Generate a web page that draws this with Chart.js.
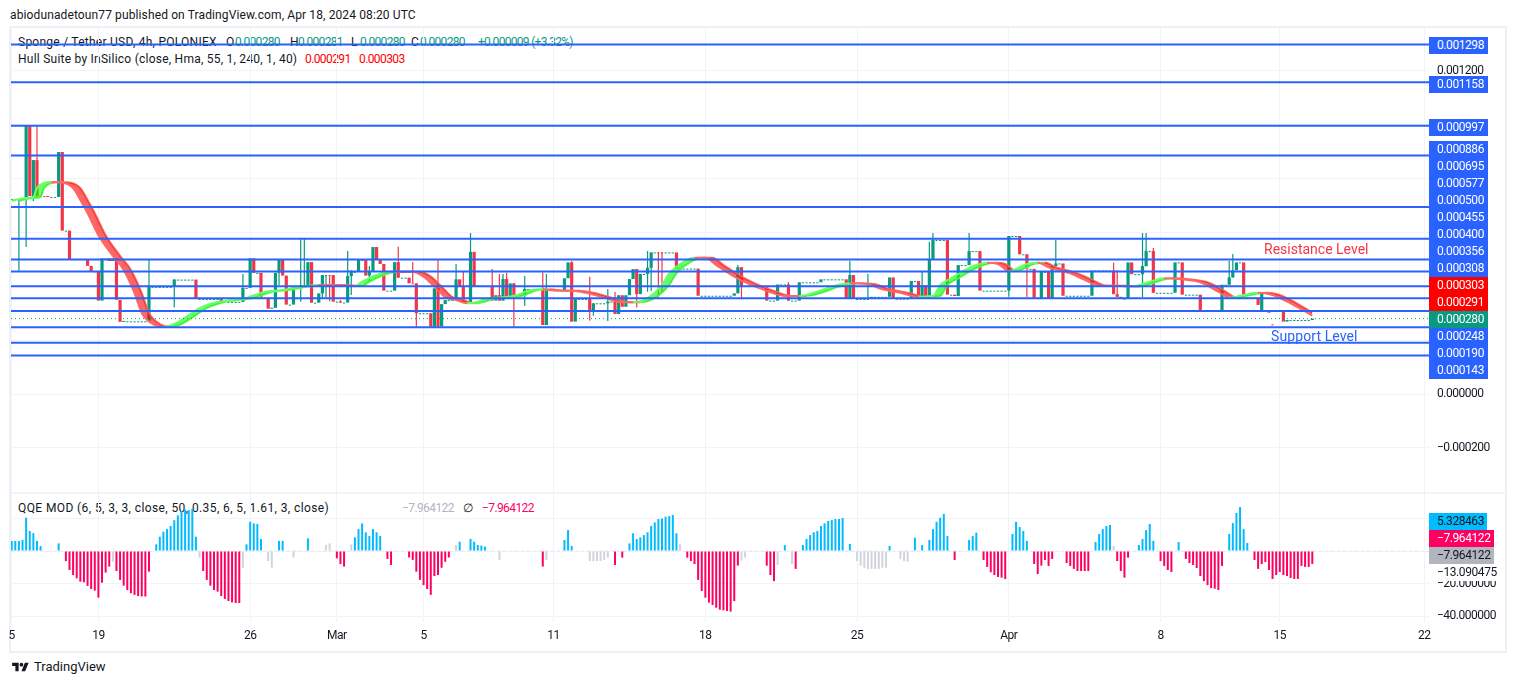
<!DOCTYPE html>
<html><head><meta charset="utf-8">
<script src="https://cdn.jsdelivr.net/npm/chart.js@4"></script>
<style>
html,body{margin:0;padding:0;background:#fff;width:1515px;height:685px;overflow:hidden;font-family:Roboto,sans-serif;font-size:12px;color:#131722}
canvas{position:absolute;z-index:2}
.t{position:absolute;white-space:pre;line-height:16px;z-index:1}
.tag{position:absolute;left:1429px;height:17px;line-height:17px;text-align:left;padding-left:8px;box-sizing:border-box;z-index:3;font-size:12px;letter-spacing:-0.42px}
#frame{position:absolute;left:9px;top:26px;width:1494px;height:623px;border:2px solid #eef0f5;box-sizing:content-box;z-index:0}
#sep{position:absolute;left:11px;top:492px;width:1494px;height:2px;background:#f0f3fa;z-index:0}
</style></head><body>
<div id="frame"></div><div id="sep"></div>
<canvas id="price" style="left:0;top:0"></canvas>
<canvas id="qqe" style="left:0;top:494px"></canvas>
<div id="texts"></div>
<svg style="position:absolute;left:10px;top:661px" width="21" height="13" viewBox="0 0 36 28"><path fill="#131722" d="M14 22H7V11H0V4h14v18zM28 22h-8l7.5-18h8L28 22z"/><circle cx="20" cy="8" r="4" fill="#131722"/></svg>
<script>
// ----- data -----
const priceUnit = 1e-6;
const closes = [724,724,724,724,997,735,869,735,735,735,732,732,732,899,607,607,501,501,501,501,501,476,456,456,347,504,504,494,504,350,268,
270,270,270,270,270,270,270,398,398,398,398,398,398,398,425,425,425,425,425,425,353,353,353,353,353,353,353,342,342,342,342,342,342,394,394,
504,450,450,358,358,317,320,450,498,440,332,332,399,399,405,405,490,339,339,374,442,442,442,343,343,340,340,438,454,454,498,498,440,455,546,
498,483,384,384,384,490,432,432,432,411,411,300,300,300,300,250,393,251,334,349,349,349,426,399,339,339,528,399,401,401,401,401,347,367,347,
427,359,411,364,364,364,390,390,390,390,390,256,386,386,386,386,386,430,489,269,353,353,353,353,307,337,337,337,337,343,343,297,367,324,367,
427,464,371,446,446,469,526,526,526,526,526,526,526,466,466,466,466,466,466,365,365,365,365,365,365,365,365,365,365,374,471,402,402,402,402,
402,402,402,347,347,347,407,407,407,347,347,347,415,415,415,415,415,415,426,426,426,426,426,426,426,353,442,353,353,353,353,353,361,361,361,
361,361,433,354,354,354,354,354,420,420,354,404,354,501,572,572,572,572,369,369,364,479,479,479,531,531,531,384,384,384,384,384,384,384,384,
587,587,587,519,519,465,465,356,356,454,454,356,475,485,485,365,365,365,365,365,365,365,365,459,459,459,459,459,459,371,361,354,354,489,445,
445,445,475,531,531,376,376,376,376,376,376,489,489,369,369,369,369,369,312,312,312,312,312,312,406,406,433,460,489,489,359,359,359,359,331,
374,310,302,310,310,310,269,275,275,275,275,275,275,275,280];
const gapOpenIdx = [346,347,349];
const gapOpenVal = [309,310,310];
const redFlatIdx = [8,9,88,111,179,180];
const strayIdx = [349];
const strayVal = [259];
const wickIdx = [2,4,6,7,38,45,64,74,80,81,86,87,88,91,93,94,99,107,111,112,118,123,125,127,133,135,136,137,139,142,147,148,155,160,161,165,167,173,176,177,179,180,201,202,215,232,237,252,254,255,265,276,281,289,305,306,313,314,316,337,338];
const wickHigh = [724,997,869,997,501,427,446,498,580,580,442,442,442,349,531,460,476,547,490,411,498,483,454,598,464,446,446,450,411,438,451,446,494,436,337,390,379,464,531,526,528,528,479,471,416,495,446,454,566,598,598,587,519,572,488,461,598,598,542,494,520];
const wickLow  = [453,546,717,735,270,321,345,405,343,405,356,356,345,338,341,368,420,432,411,250,251,349,339,339,347,347,347,359,250,327,256,256,269,272,291,271,297,321,380,383,353,379,374,352,347,353,356,354,354,501,479,361,360,475,371,361,360,475,376,406,433];

const hullIdx = [0,4,6,7,9,11,14,17,19,21,24,28,31,34,36,39,42,45,49,52,57,61,65,70,75,80,85,90,95,97,101,105,108,111,114,117,120,123,126,129,132,136,140,143,147,151,155,159,164,168,172,176,180,182,186,189,192,195,200,204,209,214,218,223,227,232,237,241,246,251,255,257,260,263,267,270,273,276,281,284,287,293,297,301,306,310,315,319,324,329,334,337,341,345,349,354,360];
const hullVal = [718,728,732,765,784,788,786,765,721,672,590,513,461,375,301,260,249,260,293,319,342,349,357,379,386,399,405,405,401,417,442,454,454,454,436,399,360,349,337,343,356,359,368,384,389,384,384,376,358,342,341,356,405,448,491,506,506,479,436,409,383,364,364,380,399,411,408,389,376,361,364,405,430,454,479,488,483,457,483,489,471,448,424,402,402,399,417,430,426,415,380,358,368,376,368,337,291];
const hullLagBars = 2;

const levelVals = [1298,1158,997,886,695,577,500,455,400,356,308,248,190,143];
const lastPrice = 280;
const priceGrid = [1200,1000,800,600,400,200,0,-200];
const priceTickShown = [1200,0,-200];

const tagVals = [1298,1158,997,886,695,577,500,455,400,356,308,303,291,280,248,190,143];
const tagKinds = ['b','b','b','b','b','b','b','b','b','b','b','r','r','g','b','b','b'];
const tagSlots = [45,84,127,149,166,183,200,217,234,251,268,285,302,319,336,353,370];

const timeTickIdx = [0,24,66,90,114,150,192,234,276,318,351,391];
const timeTickLab = ['5','19','26','Mar','5','11','18','25','Apr','8','15','22'];

const qqeIdx = [0,1,2,3,4,5,6,7,8,13,15,16,17,18,19,20,21,22,23,24,25,26,27,28,29,30,31,32,33,34,35,36,37,38,40,41,42,43,44,45,46,47,48,49,50,51,52,53,54,55,56,57,58,59,60,61,62,63,64,65,66,67,68,69,71,72,74,75,78,82,87,88,90,91,92,94,95,96,97,98,99,100,101,102,104,105,110,111,112,113,114,115,116,117,118,119,120,121,123,124,127,128,129,130,131,135,147,148,153,154,155,160,161,162,163,164,165,167,169,171,172,173,174,175,176,177,178,179,180,181,182,183,184,185,187,188,189,190,191,192,193,194,195,196,197,198,199,200,201,202,203,209,210,211,212,214,216,217,219,220,221,222,223,224,225,226,227,228,229,230,232,234,235,236,237,238,239,240,241,242,243,246,247,248,250,252,254,255,256,257,258,259,261,265,266,267,269,270,271,272,273,274,275,277,278,279,280,281,283,284,285,286,287,288,292,293,294,295,296,297,298,300,301,302,303,304,305,306,307,308,309,312,313,314,315,316,318,319,320,321,323,325,326,327,328,329,330,331,332,333,334,335,337,338,339,340,341,342,344,345,346,347,348,349,350,351,352,353,354,355,356,357,358,359,360];
const qqeVal = [6.2,6.2,6.2,6.8,20.5,12.3,11,6.2,3,4.7,-6.2,-11.7,-14.8,-16.8,-18.9,-19.3,-21.5,-23.4,-24.4,-28.7,-19.5,-13.3,-9.6,-6.6,-12.3,-17.8,-21.3,-24,-26,-27,-27.7,-28,-28,-12.7,4.1,8.8,11.9,13.5,15.4,19,22,24.6,25.6,25.2,26,8.8,-4,-12.3,-17.8,-21.3,-24,-25,-27.7,-29.5,-30.8,-31.6,-32,-32,-10.3,4.1,18,17,16.6,7.4,-6.2,-10.3,6.2,6.2,-4,7.8,3.7,4.7,-4.5,-8,-9.6,4.1,8.4,13.5,17,11.5,9.2,13.5,11.5,9.2,-4.9,-8.6,-4,-5.5,-12.7,-17.8,-21,-23.4,-27,-15.4,-14.8,-10.3,-6.6,-4,3.7,5.7,7.4,5.7,3.7,3.3,2.7,-5.5,-9.6,-5.5,6.8,12.9,3.1,-6.2,-6.2,-6.2,-6.2,-5.5,-4.1,-8.6,-4.1,4.7,10.9,7.4,8.4,9.8,11.5,15.4,17.6,19.7,20,21.1,21.5,22.2,10.9,4.1,-4.1,-6.2,-8,-17.8,-24.6,-28.7,-31.8,-33.2,-34.9,-36.1,-36.5,-36.9,-37.3,-30.8,-9,-5.9,-4.1,-9,-14.8,-18.5,-8.6,3.7,-8,-11,3.7,7.4,9.8,11.5,12.3,15.4,17,18.5,19,19.7,19.7,20.3,4.3,-6.2,-9,-10.3,-11,-11,-11,-11,-10.3,-10.3,3.1,-4.9,-6.2,-6.6,8.2,3.7,6.8,13.5,18,20.5,22.8,9.2,-5.5,6.8,9.2,11.3,-5.5,-9.8,-13.1,-14.8,-16,-16.4,-17.2,10.5,18,14.8,12.3,6.2,-8,-14.2,-9,-5.5,-9.2,-4.9,-7.4,-9.2,-11,-12.3,-12.3,-12.3,-12.3,5.5,10.5,13.5,15.4,16,3.1,-6.2,-12.3,-16.4,-4.1,3.7,7.4,12.9,16.6,6.2,-6.2,-9.2,-11.7,-12.9,5.5,-4.9,-7.4,-8.6,-10.5,-15.4,-18.5,-21,-22.8,-23.2,-24,-9.2,10.5,17.2,23.4,27,13.5,4.9,-5.5,-11,-8,-6.8,-11.7,-17.2,-14.8,-12.9,-14.8,-15.4,-16.6,-17.2,-17.2,-9.2,-9.8,-9.8,-7.96];
const qqeGrayIdx = [28,52,64,71,72,78,87,88,94,123,135,148,160,161,162,163,164,165,185,202,203,212,216,234,235,236,237,238,239,240,241,242,246,247,248,305];
const qqeGrid = [20,0,-20,-40];
const qqeTickShown = [-20,-40];

// ----- styles & layout -----
const UP='#089981', DOWN='#f23645', BLUE='#2962ff', TXT='#131722', GRID='#f0f3fa';
const QBLUE='#00bcff', QPINK='#ff0062', QGRAY='#d1d4dc';
const FONT='Roboto';
const W=1515;
const xMin=-0.19, xMax=392.3;
const fmtP=v=>(v<0?'\u2212':'')+Math.abs(v*priceUnit).toFixed(6);
const fmtQ=v=>(v<0?'\u2212':'')+Math.abs(v).toFixed(6);
Chart.defaults.font.family=FONT; Chart.defaults.font.size=12; Chart.defaults.color=TXT;

// candles: real bodies are 3px wide, flat bars draw as short dashes
const bodies=[],bodyCol=[],flats=[],flatCol=[];
const dirCol=closes.map((c,i)=>{
  const g=gapOpenIdx.indexOf(i); const o=g>=0?gapOpenVal[g]:(i?closes[i-1]:c);
  const col=c>o?UP:c<o?DOWN:(redFlatIdx.includes(i)?DOWN:UP);
  if(c===o){flats.push({x:i,y:[c*priceUnit,c*priceUnit]});flatCol.push(col)}
  else{bodies.push({x:i,y:[o*priceUnit,c*priceUnit]});bodyCol.push(col)}
  return col;
});
strayIdx.forEach((x,k)=>{flats.push({x,y:[strayVal[k]*priceUnit,strayVal[k]*priceUnit]});flatCol.push(DOWN)});
const wicks=wickIdx.map((x,k)=>({x,y:[wickLow[k]*priceUnit,wickHigh[k]*priceUnit]}));

const fast=hullIdx.map((x,k)=>({x,y:hullVal[k]*priceUnit}));
const slow=hullIdx.slice(0,-1).map((x,k)=>({x:x+hullLagBars,y:hullVal[k]*priceUnit}));
slow[slow.length-1]={x:360,y:303*priceUnit};
const HG='rgba(0,255,0,0.6)',HR='rgba(255,0,0,0.6)',HGL='#66ff66',HRL='#ff6666';
function hullRising(x){let k=0;while(k<hullIdx.length-2&&hullIdx[k+1]<=x)k++;return hullVal[k+1]>hullVal[k]}
const seg={borderColor:ctx=>hullRising(ctx.p0.parsed.x)?HGL:HRL};

const priceDs=[
 {type:'bar',label:'wick',data:wicks,backgroundColor:wickIdx.map(i=>dirCol[i]),barThickness:1.2,inflateAmount:0,grouped:false,order:7},
 {type:'bar',label:'candles',data:bodies,backgroundColor:bodyCol,barThickness:3.2,inflateAmount:0,minBarLength:1,grouped:false,order:6},
 {type:'bar',label:'flat',data:flats,backgroundColor:flatCol,barThickness:2.2,inflateAmount:0,minBarLength:1,grouped:false,order:5},
 {type:'line',label:'hull',data:fast,borderWidth:2,pointRadius:0,cubicInterpolationMode:'monotone',segment:seg,borderColor:HGL,
   fill:{target:4,above:HG,below:HR},order:4},
 {type:'line',label:'hullLag',data:slow,borderWidth:2,pointRadius:0,cubicInterpolationMode:'monotone',segment:seg,borderColor:HGL,fill:false,order:4}
];
levelVals.forEach(v=>priceDs.push({type:'line',label:'level',data:[{x:xMin,y:v*priceUnit},{x:xMax,y:v*priceUnit}],borderColor:BLUE,borderWidth:2,pointRadius:0,fill:false,order:1}));
priceDs.push({type:'line',label:'last',data:[{x:xMin,y:lastPrice*priceUnit},{x:xMax,y:lastPrice*priceUnit}],borderColor:UP,borderWidth:1,borderDash:[1,3],pointRadius:0,fill:false,order:2});

const xGrid={color:GRID,lineWidth:1,drawTicks:false,offset:false};
function xScale(showLabels){return {type:'linear',min:xMin,max:xMax,offset:false,grid:xGrid,border:{display:false},
  afterBuildTicks:s=>{s.ticks=timeTickIdx.map(v=>({value:v}))},
  afterFit:s=>{s.height=showLabels?28:0;s.paddingLeft=0;s.paddingRight=0},
  ticks:{display:showLabels,autoSkip:false,maxRotation:0,padding:7,color:TXT,font:{size:12},
    callback:v=>{const k=timeTickIdx.indexOf(v);return k>=0?timeTickLab[k]:''}}}}
function yScale(min,max,grid,shown,fmt,unit){return {type:'linear',position:'right',min,max,
  grid:{color:GRID,lineWidth:1,drawTicks:false},border:{display:false},
  afterBuildTicks:s=>{s.ticks=grid.map(v=>({value:v*unit}))},
  afterFit:s=>{s.width=76;s.paddingTop=0;s.paddingBottom=0},
  ticks:{padding:8,autoSkip:false,color:TXT,font:{size:12},align:'center',crossAlign:'near',
    callback:v=>{const r=Math.round(v/unit);return shown.includes(r)?fmt(r):''}}}}
const tightDigits={id:'tightDigits',beforeDraw:c=>{c.ctx.letterSpacing='-0.5px'}};
const common={responsive:false,animation:false,devicePixelRatio:1,plugins:{legend:{display:false},tooltip:{enabled:false},title:{display:false}}};

// price pane: y(px)=394 at 0, 269167 px per unit
const pEl=document.getElementById('price'); pEl.width=W; pEl.height=494;
new Chart(pEl,{type:'bar',data:{datasets:priceDs},plugins:[tightDigits],options:{...common,
  layout:{autoPadding:false,padding:{left:11,right:10,top:28,bottom:1}},
  scales:{x:xScale(false),y:yScale(-99/269167,366/269167,priceGrid,priceTickShown,fmtP,priceUnit)}}});

// qqe pane
const qEl=document.getElementById('qqe'); qEl.width=W; qEl.height=156;
const qCols=qqeIdx.map((i,k)=>qqeGrayIdx.includes(i)?QGRAY:(qqeVal[k]>0?QBLUE:QPINK));
new Chart(qEl,{type:'bar',data:{datasets:[
  {type:'line',label:'zero',data:[{x:xMin,y:0},{x:xMax,y:0}],borderColor:'#e6e8ec',borderWidth:1,borderDash:[3,3],pointRadius:0,order:2},
  {type:'bar',label:'qqe',data:qqeIdx.map((x,k)=>({x,y:qqeVal[k]})),backgroundColor:qCols,barThickness:2,inflateAmount:0,grouped:false,order:1}
 ]},plugins:[tightDigits],options:{...common,
  layout:{autoPadding:false,padding:{left:11,right:10,top:0,bottom:0}},
  scales:{x:xScale(true),y:yScale(-71/1.625,57/1.625,qqeGrid,qqeTickShown,fmtQ,1)}}});

// ----- real text -----
const box=document.getElementById('texts');
function t(x,y,s,col,size,ls){const d=document.createElement('div');d.className='t';d.textContent=s;d.style.left=x+'px';d.style.top=(y-8)+'px';if(col)d.style.color=col;if(size)d.style.fontSize=size+'px';if(ls)d.style.letterSpacing=ls+'px';box.appendChild(d);return d}
t(10,15,'abiodunadetoun77 published on TradingView.com, Apr 18, 2024 08:20 UTC',null,null,0.12);
t(18,42,'Sponge / Tether USD, 4h, POLONIEX',null,null,0.25);
[[226,'O'],[290,'H'],[351,'L'],[411,'C']].forEach(a=>t(a[0],42,a[1]));
[[235,'0.000280'],[298,'0.000281'],[360,'0.000280'],[420,'0.000280'],[478,'+0.000009 (+3.32%)']].forEach(a=>t(a[0],42,a[1],UP,null,-0.7));
t(18,59,'Hull Suite by InSilico (close, Hma, 55, 1, 240, 1, 40)',null,null,0.24);
t(305,59,'0.000291','#ff0000',null,-0.6); t(359,59,'0.000303','#ff0000',null,-0.6);
t(18,508,'QQE MOD (6, 5, 3, 3, close, 50, 0.35, 6, 5, 1.61, 3, close)',null,null,0.4);
t(402,508,'\u22127.964122','#b2b5be',null,-0.6); t(463,508,'\u2205'); t(482,508,'\u22127.964122',QPINK,null,-0.6);
const rl=t(1264,249,'Resistance Level',DOWN,14); rl.style.zIndex=3;
const sl=t(1271,336,'Support Level',BLUE,14,0.1); sl.style.zIndex=3;
t(34,667,'TradingView',TXT,13);
const kindBg={b:BLUE,r:'#ff0000',g:UP};
tagVals.forEach((v,k)=>{const d=document.createElement('div');d.className='tag';d.textContent=fmtP(v);
  d.style.top=(tagSlots[k]-8.5)+'px';d.style.width='59px';d.style.background=kindBg[tagKinds[k]];d.style.color='#fff';box.appendChild(d)});
[[521,'5.328463',QBLUE,'#131722',58],[538,'\u22127.964122',QPINK,'#fff',65],[555,'\u22127.964122','#b2b5be','#131722',65],[572,'\u221213.090475','#fff','#131722',68]].forEach(a=>{
  const d=document.createElement('div');d.className='tag';d.textContent=a[1];d.style.top=(a[0]-8.5)+'px';d.style.width=a[4]+'px';d.style.background=a[2];d.style.color=a[3];box.appendChild(d)});
</script>
</body></html>
